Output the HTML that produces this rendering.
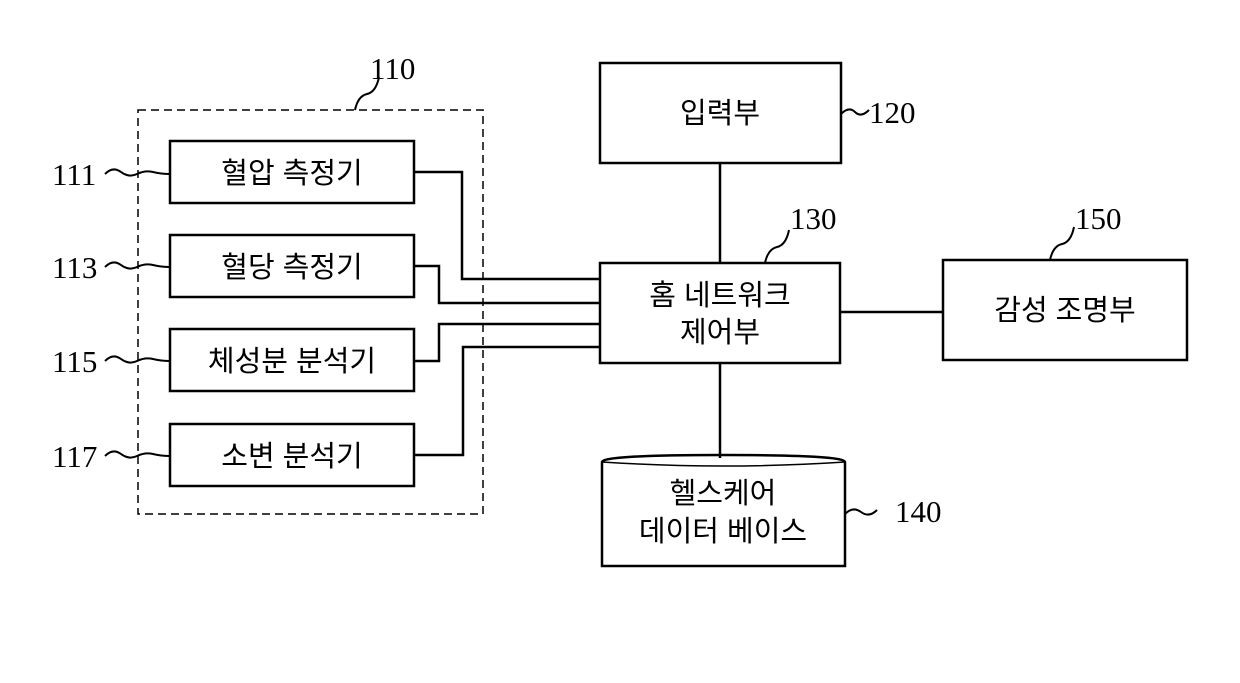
<!DOCTYPE html>
<html><head><meta charset="utf-8"><style>
body{margin:0;background:#fff}
svg{display:block}
.k{font-family:"Liberation Sans","Noto Sans CJK KR",sans-serif;font-size:29px;fill:#000}
.n{font-family:"Liberation Serif",serif;font-size:31px;fill:#000}
</style></head><body>
<svg width="1240" height="683" viewBox="0 0 1240 683" xmlns="http://www.w3.org/2000/svg">
<g fill="none" stroke="#000" stroke-width="2.5">
<rect x="138" y="110" width="345" height="404" stroke-width="1.5" stroke-dasharray="8,5"/>
<rect x="170" y="141" width="244" height="62"/>
<rect x="170" y="235" width="244" height="62"/>
<rect x="170" y="329" width="244" height="62"/>
<rect x="170" y="424" width="244" height="62"/>
<rect x="600" y="63" width="241" height="100"/>
<rect x="600" y="263" width="240" height="100"/>
<rect x="943" y="260" width="244" height="100"/>
<path d="M602 462 Q602 455 723 455 Q845 455 845 462 L845 566 L602 566 Z"/>
<path d="M602 462 Q723 470 845 462" stroke-width="1.5"/>
<path d="M414 172 H462 V279 H600"/>
<path d="M414 266 H439 V303 H600"/>
<path d="M414 361 H439 V324 H600"/>
<path d="M414 455 H463 V347 H600"/>
<path d="M720 163 V263 M720 363 V458 M840 312 H943"/>
<g stroke-width="2">
<path d="M105 174 q8 -8 16 -2 t16 2 t16 -2 t17 2"/>
<path d="M105 267 q8 -8 16 -2 t16 2 t16 -2 t17 2"/>
<path d="M105 361 q8 -8 16 -2 t16 2 t16 -2 t17 2"/>
<path d="M105 456 q8 -8 16 -2 t16 2 t16 -2 t17 2"/>
<path d="M841 114 q8 -8 14 -2 t14 -2"/>
<path d="M845 514 q8 -8 16 -2 t16 -2"/>
<path d="M765 263 q3 -14 12 -16 t12 -17"/>
<path d="M1050 260 q3 -14 12 -16 t12 -17"/>
<path d="M355 110 q3 -14 12 -16 t12 -17"/>
</g>
</g>
<text class="k" x="292" y="183" text-anchor="middle">혈압 측정기</text>
<text class="k" x="292" y="277" text-anchor="middle">혈당 측정기</text>
<text class="k" x="292" y="371" text-anchor="middle">체성분 분석기</text>
<text class="k" x="292" y="466" text-anchor="middle">소변 분석기</text>
<text class="k" x="720" y="123" text-anchor="middle">입력부</text>
<text class="k" x="720" y="305" text-anchor="middle">홈 네트워크</text>
<text class="k" x="720" y="342" text-anchor="middle">제어부</text>
<text class="k" x="1065" y="320" text-anchor="middle">감성 조명부</text>
<text class="k" x="723" y="503" text-anchor="middle">헬스케어</text>
<text class="k" x="723" y="541" text-anchor="middle">데이터 베이스</text>
<text class="n" x="52" y="185">111</text>
<text class="n" x="52" y="278">113</text>
<text class="n" x="52" y="372">115</text>
<text class="n" x="52" y="467">117</text>
<text class="n" x="370" y="79">110</text>
<text class="n" x="869" y="123">120</text>
<text class="n" x="790" y="229">130</text>
<text class="n" x="1075" y="229">150</text>
<text class="n" x="895" y="522">140</text>
</svg>
</body></html>
